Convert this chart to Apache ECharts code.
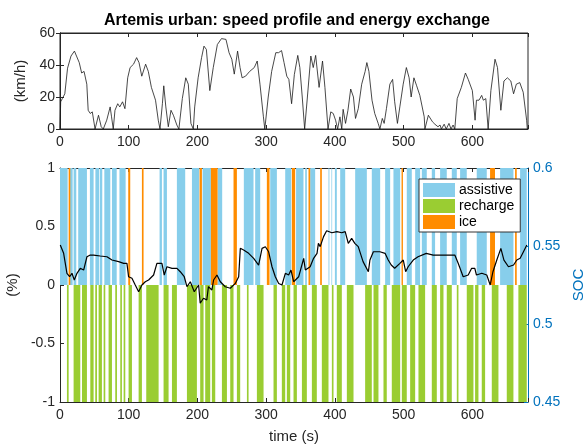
<!DOCTYPE html>
<html>
<head>
<meta charset="utf-8">
<script src="https://cdn.jsdelivr.net/npm/echarts@6/dist/echarts.min.js"></script>
<style>
  html, body { margin: 0; padding: 0; background: #fff; }
  #chart { width: 584px; height: 444px; }
</style>
</head>
<body>
<div id="chart"></div>
<script>
"use strict";
// speed profile [time (s), km/h]
var speedPts = [
  [0,0],[1,17],[3.4,19],[7,22],[11,38],[16,45.6],[21,48.7],[24,45.6],[28,41.5],[31.5,35],[35,36],[39,28],[41,11.7],[44,9.7],[47,10.7],[51,0],
  [56,8.6],[60,1.4],[63,0],[68,5.5],[73,13.8],[75,7.6],[77.5,0],[80,11.7],[84,15.8],[87,13.8],[91,17],[94.5,12.7],[98.5,32],[102,38.4],
  [107,40.5],[111.5,44.6],[115,41.5],[119,33],[124.6,40.5],[128.5,36],[133,26],[139,18],[143,5.5],[145.5,0],[149,15.8],[151,27],[154,13.8],
  [157.6,1.4],[161.5,11.7],[165,8.6],[170,2.5],[173,0],[178,19],[183,32],[186.7,28],[190.5,3.5],[194,0],[196,13.8],[201,32],[206,44.6],
  [209.5,51.8],[213,49.7],[218,24],[223,38.4],[229,52.8],[235,56.5],[241.5,56],[246,47.7],[250,43.6],[253.6,34.3],[258.4,48.7],[262,38.4],
  [265,32],[270,33],[276,36],[282.7,38.4],[287,42.5],[291,28],[296,7.6],[298,0],[303,20],[308,36],[314,47.7],[318,47.7],[322.4,49],[326,41.5],
  [330,33],[333,31],[337,15.8],[341,34],[346,46],[349,38.4],[352.5,20],[356,0],[360,20],[365,45.6],[368.5,38.4],[372,46],[377,26],[382,42.5],
  [385.5,26],[390,0],[394,10.7],[397.6,9.7],[401,5.5],[404,0],[407.3,7.6],[410,0],[412,12.3],[415.5,3.5],[419,11.7],[423,25],[427,20],
  [430,6.6],[434,12.7],[439,28],[444,36],[446.5,41.5],[449.5,36],[454,18],[458,9.7],[463,3.5],[465.5,0],[469,6.6],[471.7,3.5],[475,12.7],
  [480,28],[484,31],[487,17],[491,3.5],[494.5,13.8],[499.4,28],[504,38.4],[508,32],[511,20],[515,32],[519,27],[523.6,21],[530,7.6],[531,0],
  [536,8.6],[538,9.7],[542,4.5],[545.5,3],[550,1.4],[553,2.5],[555,0],[559,3],[562,0],[566,3.5],[569,0],[572,2.5],[574.5,0],[578,19],
  [584,26],[590,35],[594,31],[600,24],[604,5.5],[606,18],[609.7,18],[613.6,21],[616,18],[619.6,19],[623,0],[627,24],[633,43.6],[636.6,38.4],
  [641.5,11.7],[646,30],[651,32],[656,30],[660,22],[664,28],[669,29],[674,23],[679,5.5],[680,0]
];

// state of charge [time (s), SOC]
var socPts = [
  [0.4,0.5506],[5.3,0.5453],[10.1,0.5325],[14,0.5303],[17.4,0.5325],[20.8,0.5282],[24.7,0.5325],[29.5,0.5357],[34.4,0.5346],[39.2,0.5431],
  [44,0.5442],[48.9,0.5442],[58.6,0.5436],[68.3,0.5431],[75.6,0.541],[85.3,0.54],[92.6,0.5389],[97.4,0.5389],[99.8,0.5303],[104.7,0.5293],
  [109.5,0.525],[114.4,0.5207],[119.2,0.525],[124.1,0.5271],[128.9,0.5282],[136.2,0.5314],[141,0.5389],[148.3,0.5389],[151.7,0.5314],
  [155.6,0.5367],[162.9,0.5357],[170.2,0.5357],[175,0.5335],[180.8,0.5303],[184.7,0.5239],[189.6,0.5271],[195.4,0.5207],[201.7,0.525],
  [204,0.5133],[208.8,0.5165],[213.6,0.5154],[216,0.524],[221,0.5218],[223.5,0.5282],[228.4,0.5314],[233.3,0.5271],[240.5,0.5239],
  [247.8,0.5229],[255.1,0.526],[260,0.5303],[262.4,0.5485],[267.2,0.5474],[274.5,0.5453],[281.8,0.5421],[289,0.5378],[294,0.5485],
  [298.8,0.5495],[303.6,0.5463],[308.5,0.5367],[313.3,0.5303],[318.2,0.526],[323,0.525],[327.9,0.5325],[332.7,0.5314],[336.1,0.5346],
  [340,0.5271],[347.3,0.5303],[354.6,0.5421],[357,0.5346],[364,0.5367],[369,0.5421],[374,0.5453],[376,0.5517],[378.6,0.5496],[383.5,0.556],
  [388,0.5598],[395.6,0.5585],[403,0.5592],[410,0.5585],[415,0.5592],[419.5,0.5517],[424.4,0.5549],[429,0.5517],[434,0.5496],[441,0.54],
  [448.7,0.5335],[451,0.541],[456,0.5463],[465.5,0.5463],[473,0.5453],[477.6,0.541],[482,0.5378],[487,0.5357],[494.6,0.5389],[499.5,0.541],
  [503,0.5335],[506.6,0.5367],[514,0.541],[521,0.5431],[533,0.5453],[543,0.5442],[557.6,0.5442],[574.5,0.5442],[579.4,0.5389],[586.7,0.5303],
  [594,0.5314],[599,0.5357],[603.6,0.5357],[606,0.5314],[613.8,0.5325],[621,0.5314],[626,0.525],[630,0.5335],[635.6,0.541],[641.5,0.5485],
  [646,0.541],[652.6,0.5367],[660,0.5378],[664.7,0.541],[669.6,0.5421],[674.4,0.5463],[679.3,0.5506]
];

// energy exchange intervals [start (s), end (s)]
var assistive = [
  [0,11.1],[14.5,18.4],[19.8,23.7],[26.5,39.2],[43.5,48.9],[51.5,57],[58,61.5],[64.5,73.2],[75.6,82.5],[86.5,95.5],[144.9,148.3],
  [150.7,155.6],[170.1,182.2],[192,202.5],[207.5,219.6],[229.3,236],[267.5,281.6],[284,291.3],[305.9,315.6],[327.7,336.5],[343.5,354.3],
  [356.8,359.2],[364,371.3],[390.7,392],[395,396],[400,402.8],[407.7,415],[429.5,446.5],[453.7,465.9],[473.1,480.4],[485.2,495],
  [504.6,511.9],[516.8,524],[526.5,533.7],[541,545.8],[553.1,562.8],[570.1,577.4],[582.2,591.9],[606.4,621],[640.4,659.8],[669.5,679.2]
];
var recharge = [
  [10.1,12.6],[19.8,29.5],[32,39.2],[44.1,48.9],[51.3,53.8],[56.2,61],[63.5,65.9],[70.7,75.6],[80.4,82.9],[87.7,90.1],[92.6,95],
  [99.8,104.7],[114.4,119.2],[125.5,143.5],[150.7,158],[162.9,170.1],[184.7,199.2],[204,208.9],[211.3,218.6],[221,225.9],[235.6,242.9],
  [247.7,252.5],[257.4,262.2],[272,274.4],[286.5,296.2],[310.7,315.6],[322.8,327.7],[330.1,335],[339.8,344.7],[352,359.2],[366.5,373.7],
  [381,390.7],[395.6,398],[402.8,410.1],[417.4,427.1],[444,453.7],[456.2,463.4],[470.7,475.5],[482.8,495],[497.4,504.6],[509.5,516.8],
  [521.6,531.3],[541,548.3],[553.1,558],[562.8,570.1],[577.4,579.8],[591.9,601.6],[604,608.9],[613.7,618.6],[628.3,638],[650.1,659.8],
  [667,679.2]
];
var ice = [
  [12.6,15],[99.3,102.2],[119.2,121.6],[203.1,206.5],[219.6,229.3],[252.5,257.4],[301,304.9],[337.4,342.2],[361.6,364],[378.6,381],
  [497,499],[625.8,633],[662.2,664.6]
];

var xTicks = [0, 100, 200, 300, 400, 500, 600];
var xMax = 681;

var axisColor = '#262626';
var socColor = '#0072BD';
var fontFamily = 'Liberation Sans, Arial, Helvetica, sans-serif';

function band(lo, hi, color) {
  return function (params, api) {
    var p0 = api.coord([api.value(0), hi]);
    var p1 = api.coord([api.value(1), lo]);
    return {
      type: 'rect',
      shape: { x: p0[0], y: p0[1], width: Math.max(p1[0] - p0[0], 0.6), height: p1[1] - p0[1] },
      style: { fill: color }
    };
  };
}

function toItems(list, y) {
  return list.map(function (d) { return [d[0], d[1], y]; });
}

function xAxisOf(gridIndex, pos, labels) {
  return {
    type: 'value', gridIndex: gridIndex, position: pos, min: 0, max: xMax, interval: 100,
    axisLine: { show: true, onZero: false, lineStyle: { color: axisColor, width: 1 } },
    axisTick: { show: true, inside: true, length: 4, lineStyle: { color: axisColor } },
    axisLabel: { show: labels, color: '#262626', fontSize: 14, fontFamily: fontFamily, margin: 6,
      formatter: function (v) { return xTicks.indexOf(v) >= 0 ? String(v) : ''; } },
    splitLine: { show: false }
  };
}

var chart = echarts.init(document.getElementById('chart'));

var option = {
  animation: false,
  backgroundColor: '#fff',
  title: {
    text: 'Artemis urban: speed profile and energy exchange',
    left: 292, top: 8, textAlign: 'center',
    textStyle: { fontSize: 16, fontWeight: 'bold', color: '#000', fontFamily: fontFamily }
  },
  legend: {
    orient: 'vertical', left: 419, top: 179, width: 99,
    backgroundColor: '#fff', borderColor: '#333', borderWidth: 1, borderRadius: 0,
    padding: [4, 6, 3, 4], itemGap: 2, itemWidth: 32, itemHeight: 14, icon: 'rect',
    textStyle: { fontSize: 14, color: '#000', fontFamily: fontFamily, padding: [0, 0, 0, -1] },
    data: ['assistive', 'recharge', 'ice']
  },
  grid: [
    { left: 60, right: 56, top: 33, height: 96, show: true, borderColor: axisColor, borderWidth: 1,
      backgroundColor: 'transparent', outerBoundsMode: 'none', containLabel: false },
    { left: 60, right: 56, top: 168, height: 234, show: false, outerBoundsMode: 'none', containLabel: false }
  ],
  xAxis: [
    xAxisOf(0, 'bottom', true),
    Object.assign(xAxisOf(1, 'bottom', true), { name: 'time (s)', nameLocation: 'middle', nameGap: 27,
      nameTextStyle: { fontSize: 15, color: '#262626', fontFamily: fontFamily } }),
    xAxisOf(0, 'top', false),
    xAxisOf(1, 'top', false)
  ],
  yAxis: [
    {
      type: 'value', gridIndex: 0, min: 0, max: 60, interval: 20, position: 'left',
      name: '(km/h)', nameLocation: 'middle', nameGap: 30, nameRotate: 90,
      nameTextStyle: { fontSize: 15, color: '#262626', fontFamily: fontFamily },
      axisLine: { show: true, lineStyle: { color: axisColor } },
      axisTick: { show: true, inside: true, length: 4, lineStyle: { color: axisColor } },
      axisLabel: { fontSize: 14, color: '#262626', fontFamily: fontFamily, margin: 5 },
      splitLine: { show: false }
    },
    {
      type: 'value', gridIndex: 1, min: -1, max: 1, interval: 0.5, position: 'left',
      name: '(%)', nameLocation: 'middle', nameGap: 32, nameRotate: 90,
      nameTextStyle: { fontSize: 15, color: '#262626', fontFamily: fontFamily },
      axisLine: { show: true, onZero: false, lineStyle: { color: axisColor } },
      axisTick: { show: true, inside: true, length: 4, lineStyle: { color: axisColor } },
      axisLabel: { fontSize: 14, color: '#262626', fontFamily: fontFamily, margin: 5 },
      splitLine: { show: false }
    },
    {
      type: 'value', gridIndex: 1, min: 0.45, max: 0.6, interval: 0.05, position: 'right',
      name: 'SOC', nameLocation: 'middle', nameGap: 34, nameRotate: 90,
      nameTextStyle: { fontSize: 15, color: socColor, fontFamily: fontFamily },
      axisLine: { show: true, onZero: false, lineStyle: { color: socColor } },
      axisTick: { show: true, inside: true, length: 4, lineStyle: { color: socColor } },
      axisLabel: { fontSize: 14, color: socColor, fontFamily: fontFamily, margin: 5,
        formatter: function (v) { return String(Math.round(v * 100) / 100); } },
      splitLine: { show: false }
    },
    {
      type: 'value', gridIndex: 0, min: 0, max: 60, interval: 20, position: 'right',
      axisLine: { show: true, lineStyle: { color: axisColor } },
      axisTick: { show: true, inside: true, length: 4, lineStyle: { color: axisColor } },
      axisLabel: { show: false }, splitLine: { show: false }
    }
  ],
  series: [
    {
      name: 'speed', type: 'line', xAxisIndex: 0, yAxisIndex: 0, data: speedPts,
      showSymbol: false, lineStyle: { color: '#1a1a1a', width: 0.8 }, silent: true
    },
    {
      name: 'assistive', type: 'custom', xAxisIndex: 1, yAxisIndex: 1,
      renderItem: band(0, 1, '#87CEEB'), itemStyle: { color: '#87CEEB' },
      encode: { x: [0, 1], y: 2 }, data: toItems(assistive, 1), clip: true
    },
    {
      name: 'recharge', type: 'custom', xAxisIndex: 1, yAxisIndex: 1,
      renderItem: band(-1, 0, '#9ACD32'), itemStyle: { color: '#9ACD32' },
      encode: { x: [0, 1], y: 2 }, data: toItems(recharge, -1), clip: true
    },
    {
      name: 'ice', type: 'custom', xAxisIndex: 1, yAxisIndex: 1,
      renderItem: band(0, 1, '#FF8C00'), itemStyle: { color: '#FF8C00' },
      encode: { x: [0, 1], y: 2 }, data: toItems(ice, 1), clip: true
    },
    {
      name: 'SOC', type: 'line', xAxisIndex: 1, yAxisIndex: 2, data: socPts,
      showSymbol: false, lineStyle: { color: '#000', width: 1.2 }, silent: true, z: 5
    }
  ]
};

chart.setOption(option);
</script>
</body>
</html>
